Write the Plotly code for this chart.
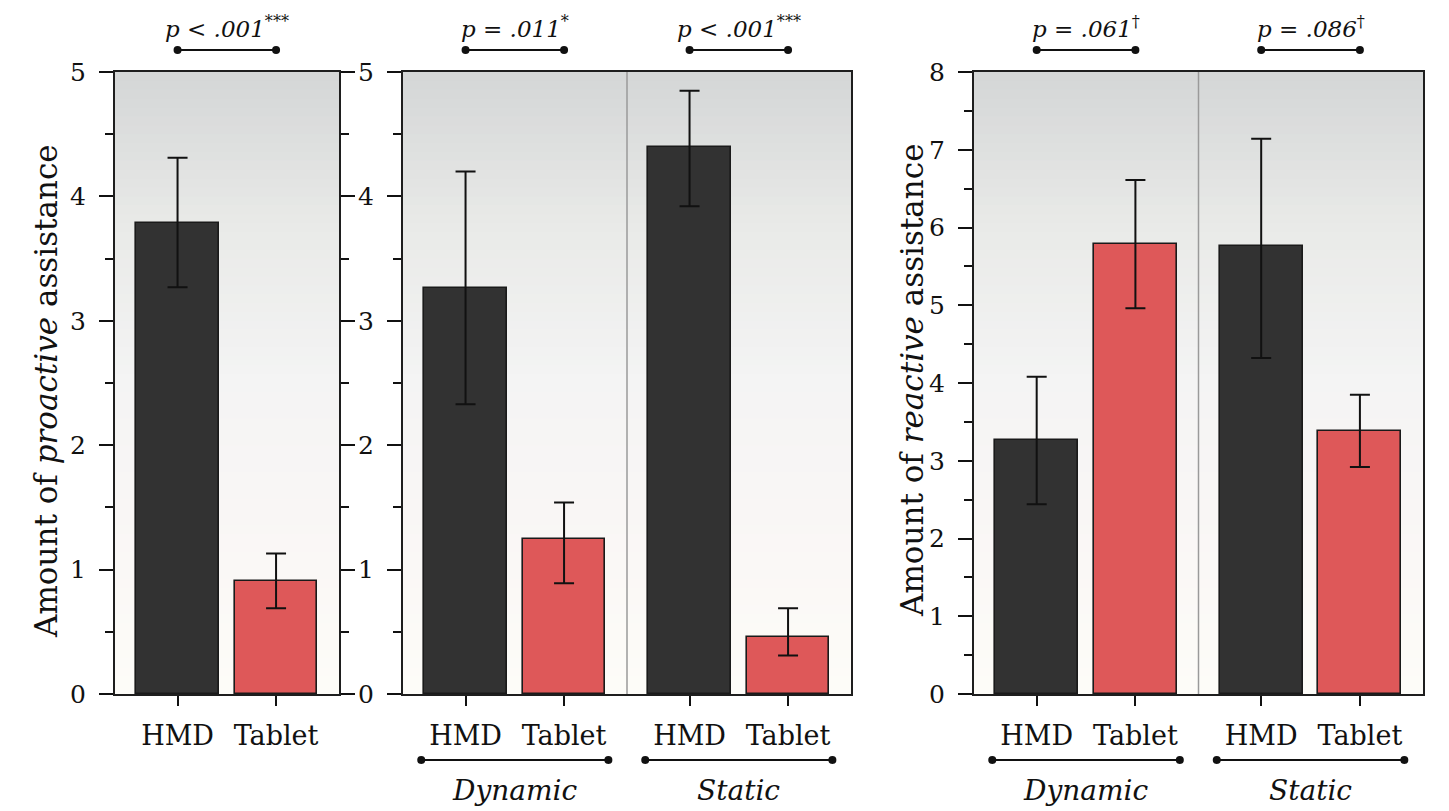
import plotly.graph_objects as go

# ---------------- data ----------------
categories = ["HMD", "Tablet"]
conditions = ["Dynamic", "Static"]

# Panel 1: proactive assistance, overall
pro_all_mean = [3.79, 0.91]
pro_all_low = [3.27, 0.69]
pro_all_high = [4.31, 1.13]
pro_all_p = ("p < .001", "***")

# Panel 2: proactive assistance by condition (Dynamic HMD, Dynamic Tablet, Static HMD, Static Tablet)
pro_cond_mean = [3.26, 1.25, 4.40, 0.46]
pro_cond_low = [2.33, 0.89, 3.92, 0.31]
pro_cond_high = [4.20, 1.54, 4.85, 0.69]
pro_cond_p = [("p = .011", "*"), ("p < .001", "***")]

# Panel 3: reactive assistance by condition
rea_cond_mean = [3.27, 5.79, 5.76, 3.38]
rea_cond_low = [2.44, 4.96, 4.32, 2.92]
rea_cond_high = [4.08, 6.61, 7.14, 3.85]
rea_cond_p = [("p = .061", "†"), ("p = .086", "†")]

# ---------------- style ----------------
W, H = 1449, 811
FONT = "DejaVu Serif"
INK = "#111111"
COL = {"HMD": "#323232", "Tablet": "#DE5859"}
GROUP_W = 2.274
OFFS = [0.635, 1.635]
BAR_W = 0.84


def fx(p):
    return p / W


def fy(p):
    return 1 - p / H


ydom = [fy(694), fy(72)]
panels = [
    dict(xd=[fx(115), fx(339)], ngroups=1, ymax=5, mirror="ticks"),
    dict(xd=[fx(403), fx(851)], ngroups=2, ymax=5, mirror=True),
    dict(xd=[fx(974), fx(1423)], ngroups=2, ymax=8, mirror=True),
]
series = [
    (pro_all_mean, pro_all_low, pro_all_high, [pro_all_p]),
    (pro_cond_mean, pro_cond_low, pro_cond_high, pro_cond_p),
    (rea_cond_mean, rea_cond_low, rea_cond_high, rea_cond_p),
]

fig = go.Figure()
shapes = []
annotations = []

grad_stops = [(0.0, (0xfd, 0xfc, 0xf8)), (0.3, (0xf9, 0xf6, 0xf5)), (0.5, (0xf4, 0xf4, 0xf4)),
              (0.75, (0xe9, 0xea, 0xe8)), (1.0, (0xd4, 0xd6, 0xd6))]


def grad(t):
    for (a, ca), (b, cb) in zip(grad_stops[:-1], grad_stops[1:]):
        if a <= t <= b:
            u = (t - a) / (b - a)
            c = [round(ca[i] + (cb[i] - ca[i]) * u) for i in range(3)]
            return "rgb(%d,%d,%d)" % tuple(c)
    return "rgb(212,214,214)"


layout_axes = {}
for k, (pan, (mean, low, high, pvals)) in enumerate(zip(panels, series)):
    n = k + 1
    xn = "x" if n == 1 else f"x{n}"
    yn = "y" if n == 1 else f"y{n}"
    xa = "xaxis" if n == 1 else f"xaxis{n}"
    ya = "yaxis" if n == 1 else f"yaxis{n}"
    ng = pan["ngroups"]
    pos = [g * GROUP_W + o for g in range(ng) for o in OFFS]
    labels = [c for g in range(ng) for c in categories]
    colors = [COL[c] for c in labels]

    fig.add_trace(go.Bar(
        x=pos, y=mean, width=BAR_W, xaxis=xn, yaxis=yn,
        marker=dict(color=colors, line=dict(color="#1a1a1a", width=1.6)),
        error_y=dict(type="data", symmetric=False,
                     array=[h - m for h, m in zip(high, mean)],
                     arrayminus=[m - l for m, l in zip(mean, low)],
                     color=INK, thickness=2, width=10),
        showlegend=False, hoverinfo="skip",
    ))

    # background gradient
    ns = 70
    for i in range(ns):
        shapes.append(dict(type="rect", xref=f"{xn} domain", yref=f"{yn} domain",
                           x0=0, x1=1, y0=i / ns, y1=(i + 1) / ns + 0.002,
                           fillcolor=grad((i + 0.5) / ns), line=dict(width=0), layer="below"))

    # group dividers
    for g in range(1, ng):
        shapes.append(dict(type="line", xref=xn, yref=f"{yn} domain",
                           x0=g * GROUP_W, x1=g * GROUP_W, y0=0, y1=1,
                           line=dict(color="#9a9a9a", width=1.5), layer="above"))

    # significance brackets on top
    for g in range(ng):
        xa0, xa1 = g * GROUP_W + OFFS[0], g * GROUP_W + OFFS[1]
        yb = fy(50)
        shapes.append(dict(type="line", xref=xn, yref="paper", x0=xa0, x1=xa1, y0=yb, y1=yb,
                           line=dict(color=INK, width=2)))
        for xv in (xa0, xa1):
            shapes.append(dict(type="circle", xref=xn, yref="paper", xsizemode="pixel",
                               ysizemode="pixel", xanchor=xv, yanchor=yb,
                               x0=-4, x1=4, y0=-4, y1=4, fillcolor=INK, line=dict(width=0)))
        ptxt, stars = pvals[g]
        annotations.append(dict(xref=xn, yref="paper", x=(xa0 + xa1) / 2, y=fy(27),
                                text=f"<i>{ptxt}</i><sup>{stars}</sup>", showarrow=False,
                                xanchor="center", yanchor="middle",
                                font=dict(family=FONT, size=23, color=INK)))

    # condition brackets at bottom
    if ng > 1:
        for g in range(ng):
            xa0 = g * GROUP_W + OFFS[0] - 0.45
            xa1 = g * GROUP_W + OFFS[1] + 0.45
            yb = fy(760)
            shapes.append(dict(type="line", xref=xn, yref="paper", x0=xa0, x1=xa1, y0=yb, y1=yb,
                               line=dict(color=INK, width=2)))
            for xv in (xa0, xa1):
                shapes.append(dict(type="circle", xref=xn, yref="paper", xsizemode="pixel",
                                   ysizemode="pixel", xanchor=xv, yanchor=yb,
                                   x0=-4, x1=4, y0=-4, y1=4, fillcolor=INK, line=dict(width=0)))
            annotations.append(dict(xref=xn, yref="paper", x=(xa0 + xa1) / 2, y=fy(790),
                                    text=f"<i>{conditions[g]}</i>", showarrow=False,
                                    xanchor="center", yanchor="middle",
                                    font=dict(family=FONT, size=28, color=INK)))

    layout_axes[xa] = dict(
        domain=pan["xd"], anchor=yn, range=[0, ng * GROUP_W],
        tickmode="array", tickvals=pos, ticktext=labels,
        ticks="outside", ticklen=10, tickwidth=2, tickcolor=INK,
        showline=True, linecolor="#1e1e1e", linewidth=2, mirror=True,
        showgrid=False, zeroline=False, fixedrange=True, automargin=False,
        tickfont=dict(family=FONT, size=27, color=INK), ticklabelstandoff=7,
    )
    layout_axes[ya] = dict(
        domain=ydom, anchor=xn, range=[0, pan["ymax"]],
        tickmode="linear", tick0=0, dtick=1,
        ticks="outside", ticklen=14, tickwidth=2, tickcolor=INK,
        minor=dict(dtick=0.5, tick0=0, ticks="outside", ticklen=8, tickwidth=2, tickcolor=INK),
        showline=True, linecolor="#1e1e1e", linewidth=2, mirror=pan["mirror"],
        showgrid=False, zeroline=False, fixedrange=True, automargin=False,
        tickfont=dict(family=FONT, size=25, color=INK), ticklabelstandoff=8,
    )

# y-axis titles
annotations.append(dict(xref="paper", yref="paper", x=fx(46), y=fy(391), textangle=-90,
                        text="Amount of <i>proactive</i> assistance", showarrow=False,
                        xanchor="center", yanchor="middle",
                        font=dict(family=FONT, size=31, color=INK)))
annotations.append(dict(xref="paper", yref="paper", x=fx(912), y=fy(380), textangle=-90,
                        text="Amount of <i>reactive</i> assistance", showarrow=False,
                        xanchor="center", yanchor="middle",
                        font=dict(family=FONT, size=31, color=INK)))

fig.update_layout(
    width=W, height=H,
    margin=dict(l=0, r=0, t=0, b=0, autoexpand=False),
    paper_bgcolor="white", plot_bgcolor="rgba(0,0,0,0)",
    font=dict(family=FONT),
    shapes=shapes, annotations=annotations,
    bargap=0, showlegend=False,
    **layout_axes,
)

fig.write_html("out.html", config={"displayModeBar": False},
               post_script="document.body.style.margin='0';document.body.style.overflow='hidden';")
